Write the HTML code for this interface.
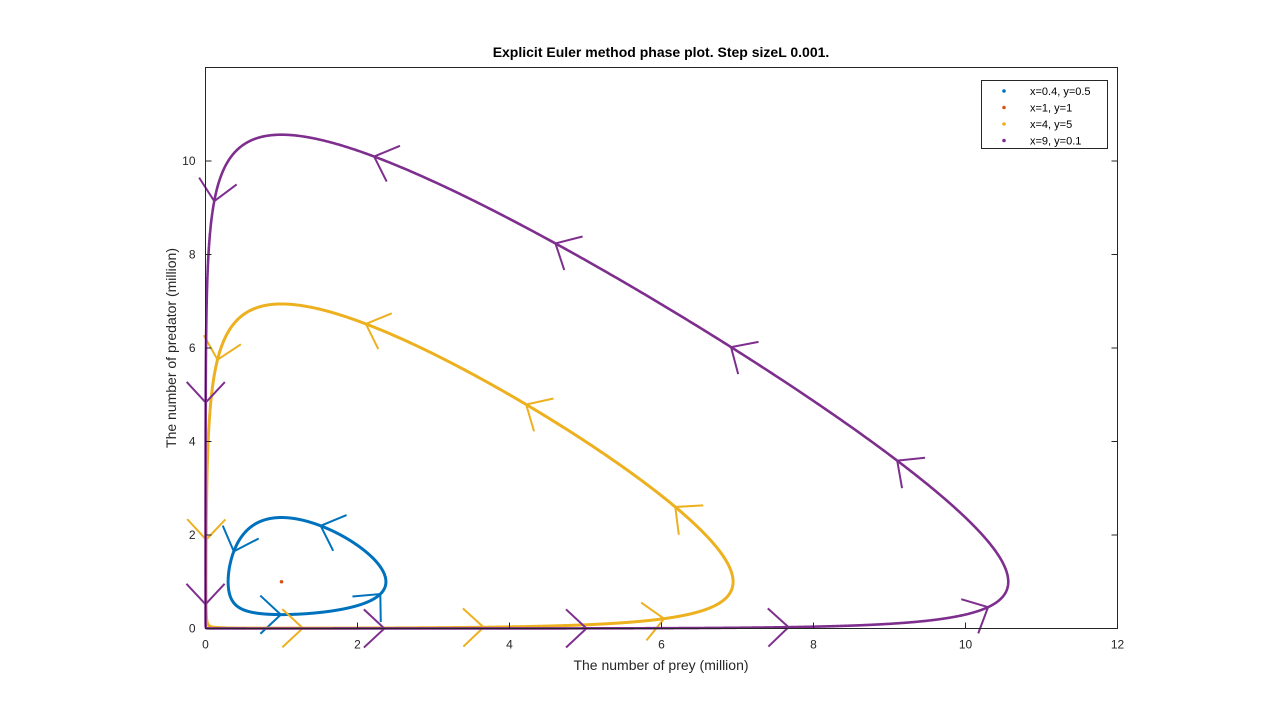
<!DOCTYPE html>
<html><head><meta charset="utf-8"><style>
body{margin:0;background:#fff;}
svg{display:block;font-family:"Liberation Sans",Arial,sans-serif;}
</style></head><body>
<svg id="chart" width="1280" height="720">
<rect x="0" y="0" width="1280" height="720" fill="#fff"/>
<g id="series"></g>
<rect x="205.5" y="67.5" width="912" height="561" fill="none" stroke="#262626" stroke-width="1"/>
<g id="ticks"></g>
<text x="661" y="57" text-anchor="middle" font-size="14" font-weight="bold" fill="#000">Explicit Euler method phase plot. Step sizeL 0.001.</text>
<text x="661" y="670" text-anchor="middle" font-size="14" fill="#262626">The number of prey (million)</text>
<text transform="translate(176,348) rotate(-90)" text-anchor="middle" font-size="14" fill="#262626">The number of predator (million)</text>
<g>
<rect x="981.5" y="80.5" width="126" height="68" fill="#fff" stroke="#262626" stroke-width="1"/>
<g id="legend"></g>
</g>
</svg>
<script>
const xTicks=[0,2,4,6,8,10,12];
const yTicks=[0,2,4,6,8,10];
const seriesLabels=["x=0.4, y=0.5","x=1, y=1","x=4, y=5","x=9, y=0.1"];
const initX=[0.4,1,4,9];
const initY=[0.5,1,5,0.1];
const seriesColors=["#0072BD","#D95319","#EDB120","#7E2F8E"];
const arrowCounts=[4,0,8,11];
const arrowOffsets=[150,0,160,100];
const xMin=0,xMax=12,yMin=0,yMax=12;
const L=205.5,R=1117.5,T=67.5,B=628.5;
const sx=v=>L+(v-xMin)/(xMax-xMin)*(R-L);
const sy=v=>B-(v-yMin)/(yMax-yMin)*(B-T);
const NS="http://www.w3.org/2000/svg";
function mk(tag,attrs,parent){const e=document.createElementNS(NS,tag);for(const k in attrs)e.setAttribute(k,attrs[k]);parent.appendChild(e);return e;}
const ticks=document.getElementById('ticks');
xTicks.forEach(v=>{
  const X=sx(v);
  let l=mk('line',{x1:X,x2:X,y1:B,y2:B-6,stroke:'#262626'},ticks);
  
  
  const t=mk('text',{x:X,y:B+20,'text-anchor':'middle','font-size':12,fill:'#262626'},ticks);
  t.textContent=v;
  
  
});
yTicks.forEach(v=>{
  const Y=sy(v);
  let l=mk('line',{x1:L,x2:L+6,y1:Y,y2:Y,stroke:'#262626'},ticks);
  
  
  l=mk('line',{x1:R,x2:R-6,y1:Y,y2:Y,stroke:'#262626'},ticks);
  
  
  const t=mk('text',{x:L-10,y:Y+4,'text-anchor':'end','font-size':12,fill:'#262626'},ticks);
  t.textContent=v;
  
  
});
function f(x,y){return [x-x*y, x*y-y];}
function simulate(x0,y0){
  const dt=0.001;let x=x0,y=y0;const pts=[[x,y]];
  let acc=0,prev=Math.atan2(y-1,x-1);
  for(let i=0;i<200000;i++){
    const k1=f(x,y),k2=f(x+dt/2*k1[0],y+dt/2*k1[1]),k3=f(x+dt/2*k2[0],y+dt/2*k2[1]),k4=f(x+dt*k3[0],y+dt*k3[1]);
    x+=dt/6*(k1[0]+2*k2[0]+2*k3[0]+k4[0]);y+=dt/6*(k1[1]+2*k2[1]+2*k3[1]+k4[1]);
    pts.push([x,y]);
    const a=Math.atan2(y-1,x-1);let d=a-prev;if(d>Math.PI)d-=2*Math.PI;if(d<-Math.PI)d+=2*Math.PI;acc+=d;prev=a;
    if(Math.abs(acc)>=2*Math.PI)break;
  }
  return pts;
}
const series=document.getElementById('series');
const legend=document.getElementById('legend');
initX.forEach((x0,i)=>{
  const g=mk('g',{},series);
  
  
  if(x0===1&&initY[i]===1){
    const c=mk('circle',{cx:sx(x0),cy:sy(initY[i]),r:1.8,fill:seriesColors[i]},g);
    
    
  } else {
    const pts=simulate(x0,initY[i]);
    const px=pts.map(p=>[sx(p[0]),sy(p[1])]);
    const d=px.map((p,j)=>(j?'L':'M')+p[0].toFixed(2)+' '+p[1].toFixed(2)).join('');
    const p=mk('path',{d:d,fill:'none',stroke:seriesColors[i],'stroke-width':i===3?2.6:3,'stroke-linejoin':'round'},g);
    
    
    const cum=[0];
    for(let j=1;j<px.length;j++)cum.push(cum[j-1]+Math.hypot(px[j][0]-px[j-1][0],px[j][1]-px[j-1][1]));
    const total=cum[cum.length-1],n=arrowCounts[i],step=total/Math.max(n,1);
    let idx=0;
    for(let k=0;k<n;k++){
      const target=(arrowOffsets[i]+k*step)%total;
      idx=0;while(idx<cum.length-1&&cum[idx]<target)idx++;
      let j2=idx;while(j2<px.length-1&&cum[j2]-cum[idx]<3)j2++;
      let dx=px[j2][0]-px[idx][0],dy=px[j2][1]-px[idx][1];const m=Math.hypot(dx,dy)||1;dx/=m;dy/=m;
      const tx=px[idx][0],ty=px[idx][1],len=28,ang=0.75;
      const ca=Math.cos(ang),sa=Math.sin(ang);
      const b1x=tx-len*(dx*ca-dy*sa),b1y=ty-len*(dx*sa+dy*ca);
      const b2x=tx-len*(dx*ca+dy*sa),b2y=ty-len*(-dx*sa+dy*ca);
      const ar=mk('path',{d:`M${b1x} ${b1y}L${tx} ${ty}L${b2x} ${b2y}`,fill:'none',stroke:seriesColors[i],'stroke-width':2},g);
      
      
    }
  }
  const ly=92+i*16.5;
  const dot=mk('circle',{cx:1004,cy:ly-1,r:1.8,fill:seriesColors[i]},legend);
  
  
  const t=mk('text',{x:1030,y:ly+3,'font-size':11,fill:'#000'},legend);
  t.textContent=seriesLabels[i];
  
  
});
</script>
</body></html>
